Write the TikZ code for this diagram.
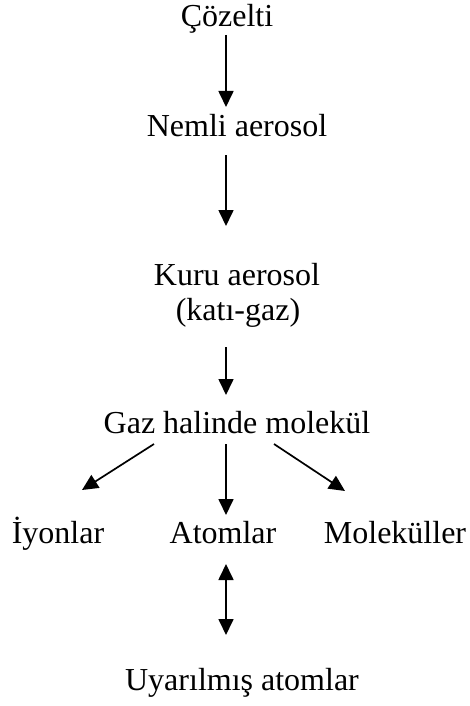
\documentclass[tikz,border=0pt]{standalone}
\usepackage{fontspec}
\setmainfont{Liberation Serif}
\usetikzlibrary{arrows.meta,calc}
\tikzset{
  lbl/.style={anchor=base, inner sep=0pt, font=\fontsize{32}{38}\selectfont},
  arr/.style={line width=1.7pt, -{Triangle[width=15pt,length=16pt]}},
  darr/.style={line width=1.7pt, {Triangle[width=15pt,length=16pt]}-{Triangle[width=15pt,length=16pt]}}
}
\begin{document}
\begin{tikzpicture}[x=1pt,y=1pt]
\useasboundingbox (0,0) rectangle (469,-706);
\node[lbl] (cz) at (227,-27) {Çözelti};
\node[lbl] (nemli) at (237,-136) {Nemli aerosol};
\node[lbl] (kuru) at (237,-285) {Kuru aerosol};
\node[lbl] (kati) at (238,-320) {(katı-gaz)};
\node[lbl] (gaz) at (237,-433) {Gaz halinde molekül};
\node[lbl] (iyon) at (58,-543) {İyonlar};
\node[lbl] (atom) at (223,-543) {Atomlar};
\node[lbl] (molek) at (395,-543) {Moleküller};
\node[lbl] (uyar) at (242,-690) {Uyarılmış atomlar};
\draw[arr] ($(cz.base)+(-1,-8)$) -- ($(nemli.base)+(-11,29)$);
\draw[arr] ($(nemli.base)+(-11,-19)$) -- ($(kuru.base)+(-11,59)$);
\draw[arr] ($(kati.base)+(-12,-27)$) -- ($(gaz.base)+(-11,38)$);
\draw[arr] ($(gaz.base)+(-83,-11)$) -- ($(iyon.base)+(24,53)$);
\draw[arr] ($(gaz.base)+(-11,-11)$) -- ($(atom.base)+(3,28)$);
\draw[arr] ($(gaz.base)+(37,-11)$) -- ($(molek.base)+(-50,52)$);
\draw[darr] ($(atom.base)+(3,-21)$) -- ($(uyar.base)+(-16,55)$);
\end{tikzpicture}
\end{document}
